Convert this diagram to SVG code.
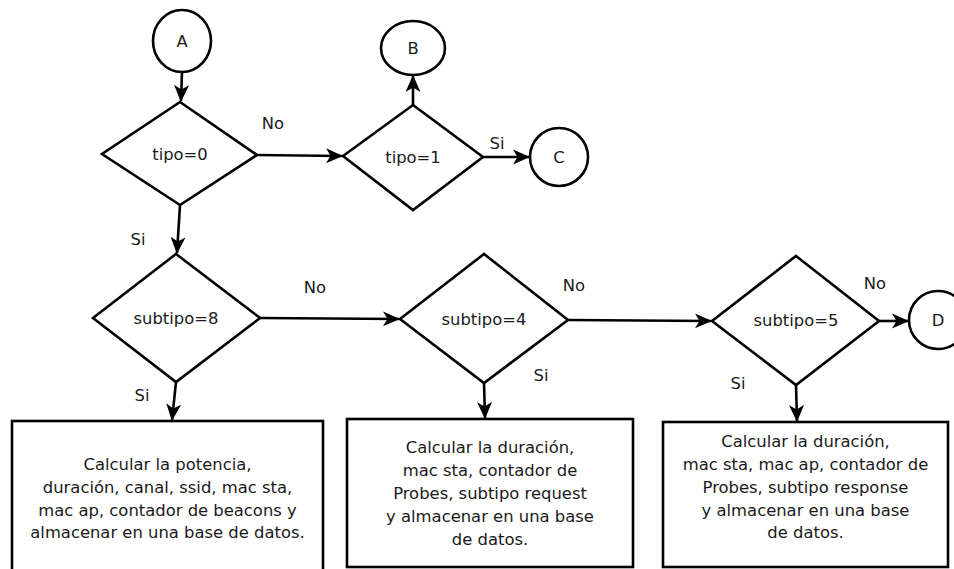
<svg xmlns="http://www.w3.org/2000/svg" width="954" height="569" viewBox="0 0 954 569">
  <style>
    .shape { fill: #ffffff; stroke: #000000; stroke-width: 2.6; }
    .edge { fill: none; stroke: #000000; stroke-width: 2.6; marker-end: url(#arrow); }
    text { font-family: "DejaVu Sans", Verdana, sans-serif; font-size: 16.4px; fill: #1a1a1a; text-anchor: middle; }
  </style>
  <defs>
    <marker id="arrow" markerUnits="userSpaceOnUse" markerWidth="17" markerHeight="16" viewBox="0 0 17 16" refX="16" refY="8" orient="auto">
      <path d="M0,0.5 L17,8 L0,15.5 L4.5,8 Z" fill="#000000"/>
    </marker>
  </defs>
  <rect width="954" height="569" fill="#ffffff"/>

  <g id="connectors">
    <line class="edge" x1="182" y1="72" x2="181" y2="101"/>
    <line class="edge" x1="180" y1="205" x2="177" y2="253"/>
    <line class="edge" x1="257" y1="155" x2="342" y2="156"/>
    <line class="edge" x1="413" y1="105" x2="413" y2="76"/>
    <line class="edge" x1="483" y1="157" x2="529" y2="157"/>
    <line class="edge" x1="260" y1="318" x2="399" y2="319"/>
    <line class="edge" x1="568" y1="320" x2="711" y2="321"/>
    <line class="edge" x1="879" y1="321" x2="908" y2="321"/>
    <line class="edge" x1="176" y1="382" x2="172" y2="420"/>
    <line class="edge" x1="484" y1="383" x2="485" y2="418"/>
    <line class="edge" x1="796" y1="385" x2="797" y2="421"/>
    <text x="273" y="129">No</text>
    <text x="138" y="245">Si</text>
    <text x="497" y="149">Si</text>
    <text x="315" y="293">No</text>
    <text x="142" y="401">Si</text>
    <text x="574" y="291">No</text>
    <text x="541" y="381">Si</text>
    <text x="875" y="289">No</text>
    <text x="738" y="389">Si</text>
  </g>

  <g id="node-a">
    <ellipse class="shape" cx="182" cy="41" rx="29" ry="31"/>
    <text x="182" y="47">A</text>
  </g>
  <g id="node-b">
    <ellipse class="shape" cx="413" cy="48" rx="32" ry="27"/>
    <text x="413" y="54">B</text>
  </g>
  <g id="node-c">
    <ellipse class="shape" cx="559" cy="157" rx="29" ry="29"/>
    <text x="559" y="163">C</text>
  </g>
  <g id="node-d">
    <ellipse class="shape" cx="938" cy="320" rx="29" ry="29"/>
    <text x="938" y="326">D</text>
  </g>

  <g id="decision-tipo0">
    <polygon class="shape" points="180,102 257,155 180,205 102,154"/>
    <text x="180" y="160">tipo=0</text>
  </g>
  <g id="decision-tipo1">
    <polygon class="shape" points="413,105 483,157 413,210 343,156"/>
    <text x="413" y="163">tipo=1</text>
  </g>
  <g id="decision-subtipo8">
    <polygon class="shape" points="176,254 260,318 176,382 93,318"/>
    <text x="176" y="324">subtipo=8</text>
  </g>
  <g id="decision-subtipo4">
    <polygon class="shape" points="484,254 568,320 484,383 400,319"/>
    <text x="484" y="325">subtipo=4</text>
  </g>
  <g id="decision-subtipo5">
    <polygon class="shape" points="796,256 879,321 796,385 712,321"/>
    <text x="796" y="326">subtipo=5</text>
  </g>

  <g id="process-beacons">
    <rect class="shape" x="12" y="421" width="311" height="160"/>
    <text x="167.5" y="470">Calcular la potencia,</text>
    <text x="167.5" y="493">duración, canal, ssid, mac sta,</text>
    <text x="167.5" y="516">mac ap, contador de beacons y</text>
    <text x="167.5" y="538">almacenar en una base de datos.</text>
  </g>
  <g id="process-probe-request">
    <rect class="shape" x="347" y="419" width="286" height="148"/>
    <text x="490" y="453">Calcular la duración,</text>
    <text x="490" y="476">mac sta, contador de</text>
    <text x="490" y="499">Probes, subtipo request</text>
    <text x="490" y="522">y almacenar en una base</text>
    <text x="490" y="545">de datos.</text>
  </g>
  <g id="process-probe-response">
    <rect class="shape" x="663" y="422" width="285" height="145"/>
    <text x="805.5" y="447">Calcular la duración,</text>
    <text x="805.5" y="470">mac sta, mac ap, contador de</text>
    <text x="805.5" y="493">Probes, subtipo response</text>
    <text x="805.5" y="516">y almacenar en una base</text>
    <text x="805.5" y="538">de datos.</text>
  </g>
</svg>
